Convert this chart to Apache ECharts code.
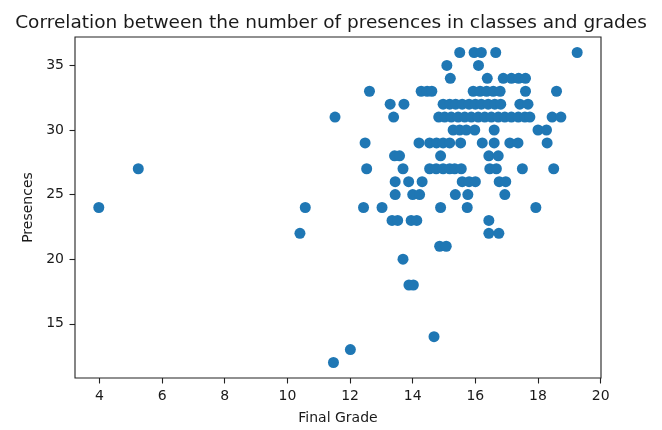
<!DOCTYPE html>
<html>
<head>
<meta charset="utf-8">
<script src="https://cdn.jsdelivr.net/npm/echarts@6/dist/echarts.min.js"></script>
<style>
  html, body { margin: 0; padding: 0; background: #fff; }
  #chart { width: 662px; height: 430px; }
</style>
</head>
<body>
<div id="chart"></div>
<script>
// Final grade of each student, grouped by their number of presences (rows of equal presences)
const finalGrade = [
  15.5, 15.96, 16.19, 16.65, 19.25,                                   // 36
  15.09, 16.1,                                                        // 35
  15.2, 16.38, 16.89, 17.15, 17.38, 17.6,                             // 34
  12.62, 14.27, 14.46, 14.61, 15.93, 16.15, 16.36, 16.57, 16.79, 17.6, 18.59, // 33
  13.28, 13.72, 14.97, 15.18, 15.37, 15.58, 15.8, 16.0, 16.19, 16.41, 16.62, 16.81, 17.42, 17.68, // 32
  11.52, 13.39, 14.83, 15.02, 15.23, 15.45, 15.66, 15.87, 16.09, 16.3, 16.51, 16.73, 16.94, 17.15, 17.37, 17.58, 17.74, 18.45, 18.73, // 31
  15.29, 15.5, 15.71, 15.98, 16.6, 18.0, 18.27,                       // 30
  12.48, 14.2, 14.54, 14.76, 14.97, 15.18, 15.53, 16.22, 16.6, 17.1, 17.36, 18.29, // 29
  13.42, 13.58, 14.89, 16.43, 16.73,                                  // 28
  5.24, 12.53, 13.69, 14.54, 14.75, 14.97, 15.18, 15.34, 15.55, 16.46, 16.67, 17.5, 18.5, // 27
  13.44, 13.87, 14.3, 15.58, 15.8, 16.0, 16.76, 16.97,                // 26
  13.44, 14.0, 14.22, 15.36, 15.76, 16.94,                            // 25
  3.98, 10.57, 12.43, 13.02, 14.89, 15.74, 17.93,                     // 24
  13.34, 13.52, 13.95, 14.13, 16.43,                                  // 23
  10.4, 16.43, 16.75,                                                 // 22
  14.86, 15.07,                                                       // 21
  13.69,                                                              // 20
  13.88, 14.02,                                                       // 18
  14.68,                                                              // 14
  12.01,                                                              // 13
  11.47                                                               // 12
];

// Number of presences in classes, one per student (same order as finalGrade)
const presences = [
  36, 36, 36, 36, 36,
  35, 35,
  34, 34, 34, 34, 34, 34,
  33, 33, 33, 33, 33, 33, 33, 33, 33, 33, 33,
  32, 32, 32, 32, 32, 32, 32, 32, 32, 32, 32, 32, 32, 32,
  31, 31, 31, 31, 31, 31, 31, 31, 31, 31, 31, 31, 31, 31, 31, 31, 31, 31, 31,
  30, 30, 30, 30, 30, 30, 30,
  29, 29, 29, 29, 29, 29, 29, 29, 29, 29, 29, 29,
  28, 28, 28, 28, 28,
  27, 27, 27, 27, 27, 27, 27, 27, 27, 27, 27, 27, 27,
  26, 26, 26, 26, 26, 26, 26, 26,
  25, 25, 25, 25, 25, 25,
  24, 24, 24, 24, 24, 24, 24,
  23, 23, 23, 23, 23,
  22, 22, 22,
  21, 21,
  20,
  18, 18,
  14,
  13,
  12
];

const xTicks = [4, 6, 8, 10, 12, 14, 16, 18, 20];
const yTicks = [15, 20, 25, 30, 35];

const points = finalGrade.map((g, i) => [g, presences[i]]);

const FONT = 'DejaVu Sans';
const INK = '#1a1a1a';
const chart = echarts.init(document.getElementById('chart'), null, { renderer: 'canvas' });

chart.setOption({
  animation: false,
  backgroundColor: '#fff',
  title: {
    text: 'Correlation between the number of presences in classes and grades',
    left: 'center',
    top: 9,
    textStyle: { fontFamily: FONT, fontSize: 18.5, fontWeight: 'normal', color: INK }
  },
  grid: {
    left: 75, top: 37, width: 526, height: 343,
    show: true, borderColor: '#222', borderWidth: 1.1, backgroundColor: 'transparent'
  },
  xAxis: {
    type: 'value',
    min: 3.22, max: 20.01,
    name: 'Final Grade',
    nameLocation: 'middle',
    nameGap: 33,
    nameTextStyle: { fontFamily: FONT, fontSize: 14, color: INK },
    axisLine: { show: false },
    splitLine: { show: false },
    axisTick: { show: true, length: 5.5, lineStyle: { color: '#222', width: 1.1 }, customValues: xTicks },
    axisLabel: { customValues: xTicks, fontFamily: FONT, fontSize: 14, color: INK, margin: 11 }
  },
  yAxis: {
    type: 'value',
    min: 10.8, max: 37.2,
    name: 'Presences',
    nameLocation: 'middle',
    nameGap: 39,
    nameTextStyle: { fontFamily: FONT, fontSize: 14, color: INK },
    axisLine: { show: false },
    splitLine: { show: false },
    axisTick: { show: true, length: 5.5, lineStyle: { color: '#222', width: 1.1 }, customValues: yTicks },
    axisLabel: { customValues: yTicks, fontFamily: FONT, fontSize: 14, color: INK, margin: 11 }
  },
  series: [{
    type: 'scatter',
    data: points,
    symbol: 'circle',
    symbolSize: 11,
    itemStyle: { color: '#1f77b4', opacity: 1 }
  }]
});
</script>
</body>
</html>
